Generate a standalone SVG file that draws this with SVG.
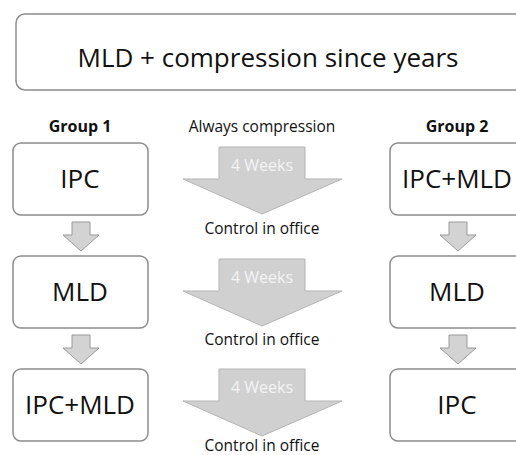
<svg xmlns="http://www.w3.org/2000/svg" width="516" height="455" viewBox="0 0 516 455">
<defs>
<style>
.box{fill:#fff;stroke:#8c8c8c;stroke-width:1.5}
.big{fill:#d0d0d0;stroke:#b3b3b3;stroke-width:1}
.sm{fill:#d3d3d3;stroke:#999;stroke-width:1}
.t{font-family:"Open Sans","Liberation Sans",sans-serif;fill:#111;text-anchor:middle}
.bt{font-size:26px}
.lab{font-size:15.5px}
.grp{font-size:16px;font-weight:bold}
.wk{font-family:"Open Sans","Liberation Sans",sans-serif;font-size:16px;fill:#f4f4f4;text-anchor:middle}
</style>
</defs>
<rect width="516" height="455" fill="#fff"/>
<g id="title">
<rect class="box" x="16" y="14" width="515" height="76" rx="9"/>
<text class="t" x="268" y="67" font-size="26">MLD + compression since years</text>
</g>
<g id="labels">
<text class="t grp" x="80" y="132">Group 1</text>
<text class="t grp" x="457" y="132">Group 2</text>
<text class="t lab" x="262" y="132">Always compression</text>
</g>
<g id="g1-ipc"><rect class="box" x="13" y="143" width="135" height="72" rx="8"/><text class="t bt" x="80" y="188">IPC</text></g>
<g id="g1-mld"><rect class="box" x="13" y="256" width="135" height="72" rx="8"/><text class="t bt" x="80" y="301">MLD</text></g>
<g id="g1-ipcmld"><rect class="box" x="13" y="369" width="135" height="72" rx="8"/><text class="t bt" x="80" y="414">IPC+MLD</text></g>
<g id="g2-ipcmld"><rect class="box" x="390" y="143" width="140" height="72" rx="8"/><text class="t bt" x="457" y="188">IPC+MLD</text></g>
<g id="g2-mld"><rect class="box" x="390" y="256" width="140" height="72" rx="8"/><text class="t bt" x="457" y="301">MLD</text></g>
<g id="g2-ipc"><rect class="box" x="390" y="369" width="140" height="72" rx="8"/><text class="t bt" x="457" y="414">IPC</text></g>
<g id="connectors">
<path class="sm" d="M72 222H90V235H99L81 251L63 235H72Z"/>
<path class="sm" d="M72 335H90V348H99L81 364L63 348H72Z"/>
<path class="sm" d="M449 222H467V235H476L458 251L440 235H449Z"/>
<path class="sm" d="M449 335H467V348H476L458 364L440 348H449Z"/>
<path class="big" d="M219 147H305V179H342L262 214L183 179H219Z"/>
<path class="big" d="M219 259H305V291H342L262 326L183 291H219Z"/>
<path class="big" d="M219 369H305V401H342L262 436L183 401H219Z"/>
</g>
<g id="arrow-labels">
<text class="wk" x="262" y="171">4 Weeks</text>
<text class="wk" x="262" y="283">4 Weeks</text>
<text class="wk" x="262" y="393">4 Weeks</text>
<text class="t lab" x="262" y="234">Control in office</text>
<text class="t lab" x="262" y="345">Control in office</text>
<text class="t lab" x="262" y="451">Control in office</text>
</g>
</svg>
